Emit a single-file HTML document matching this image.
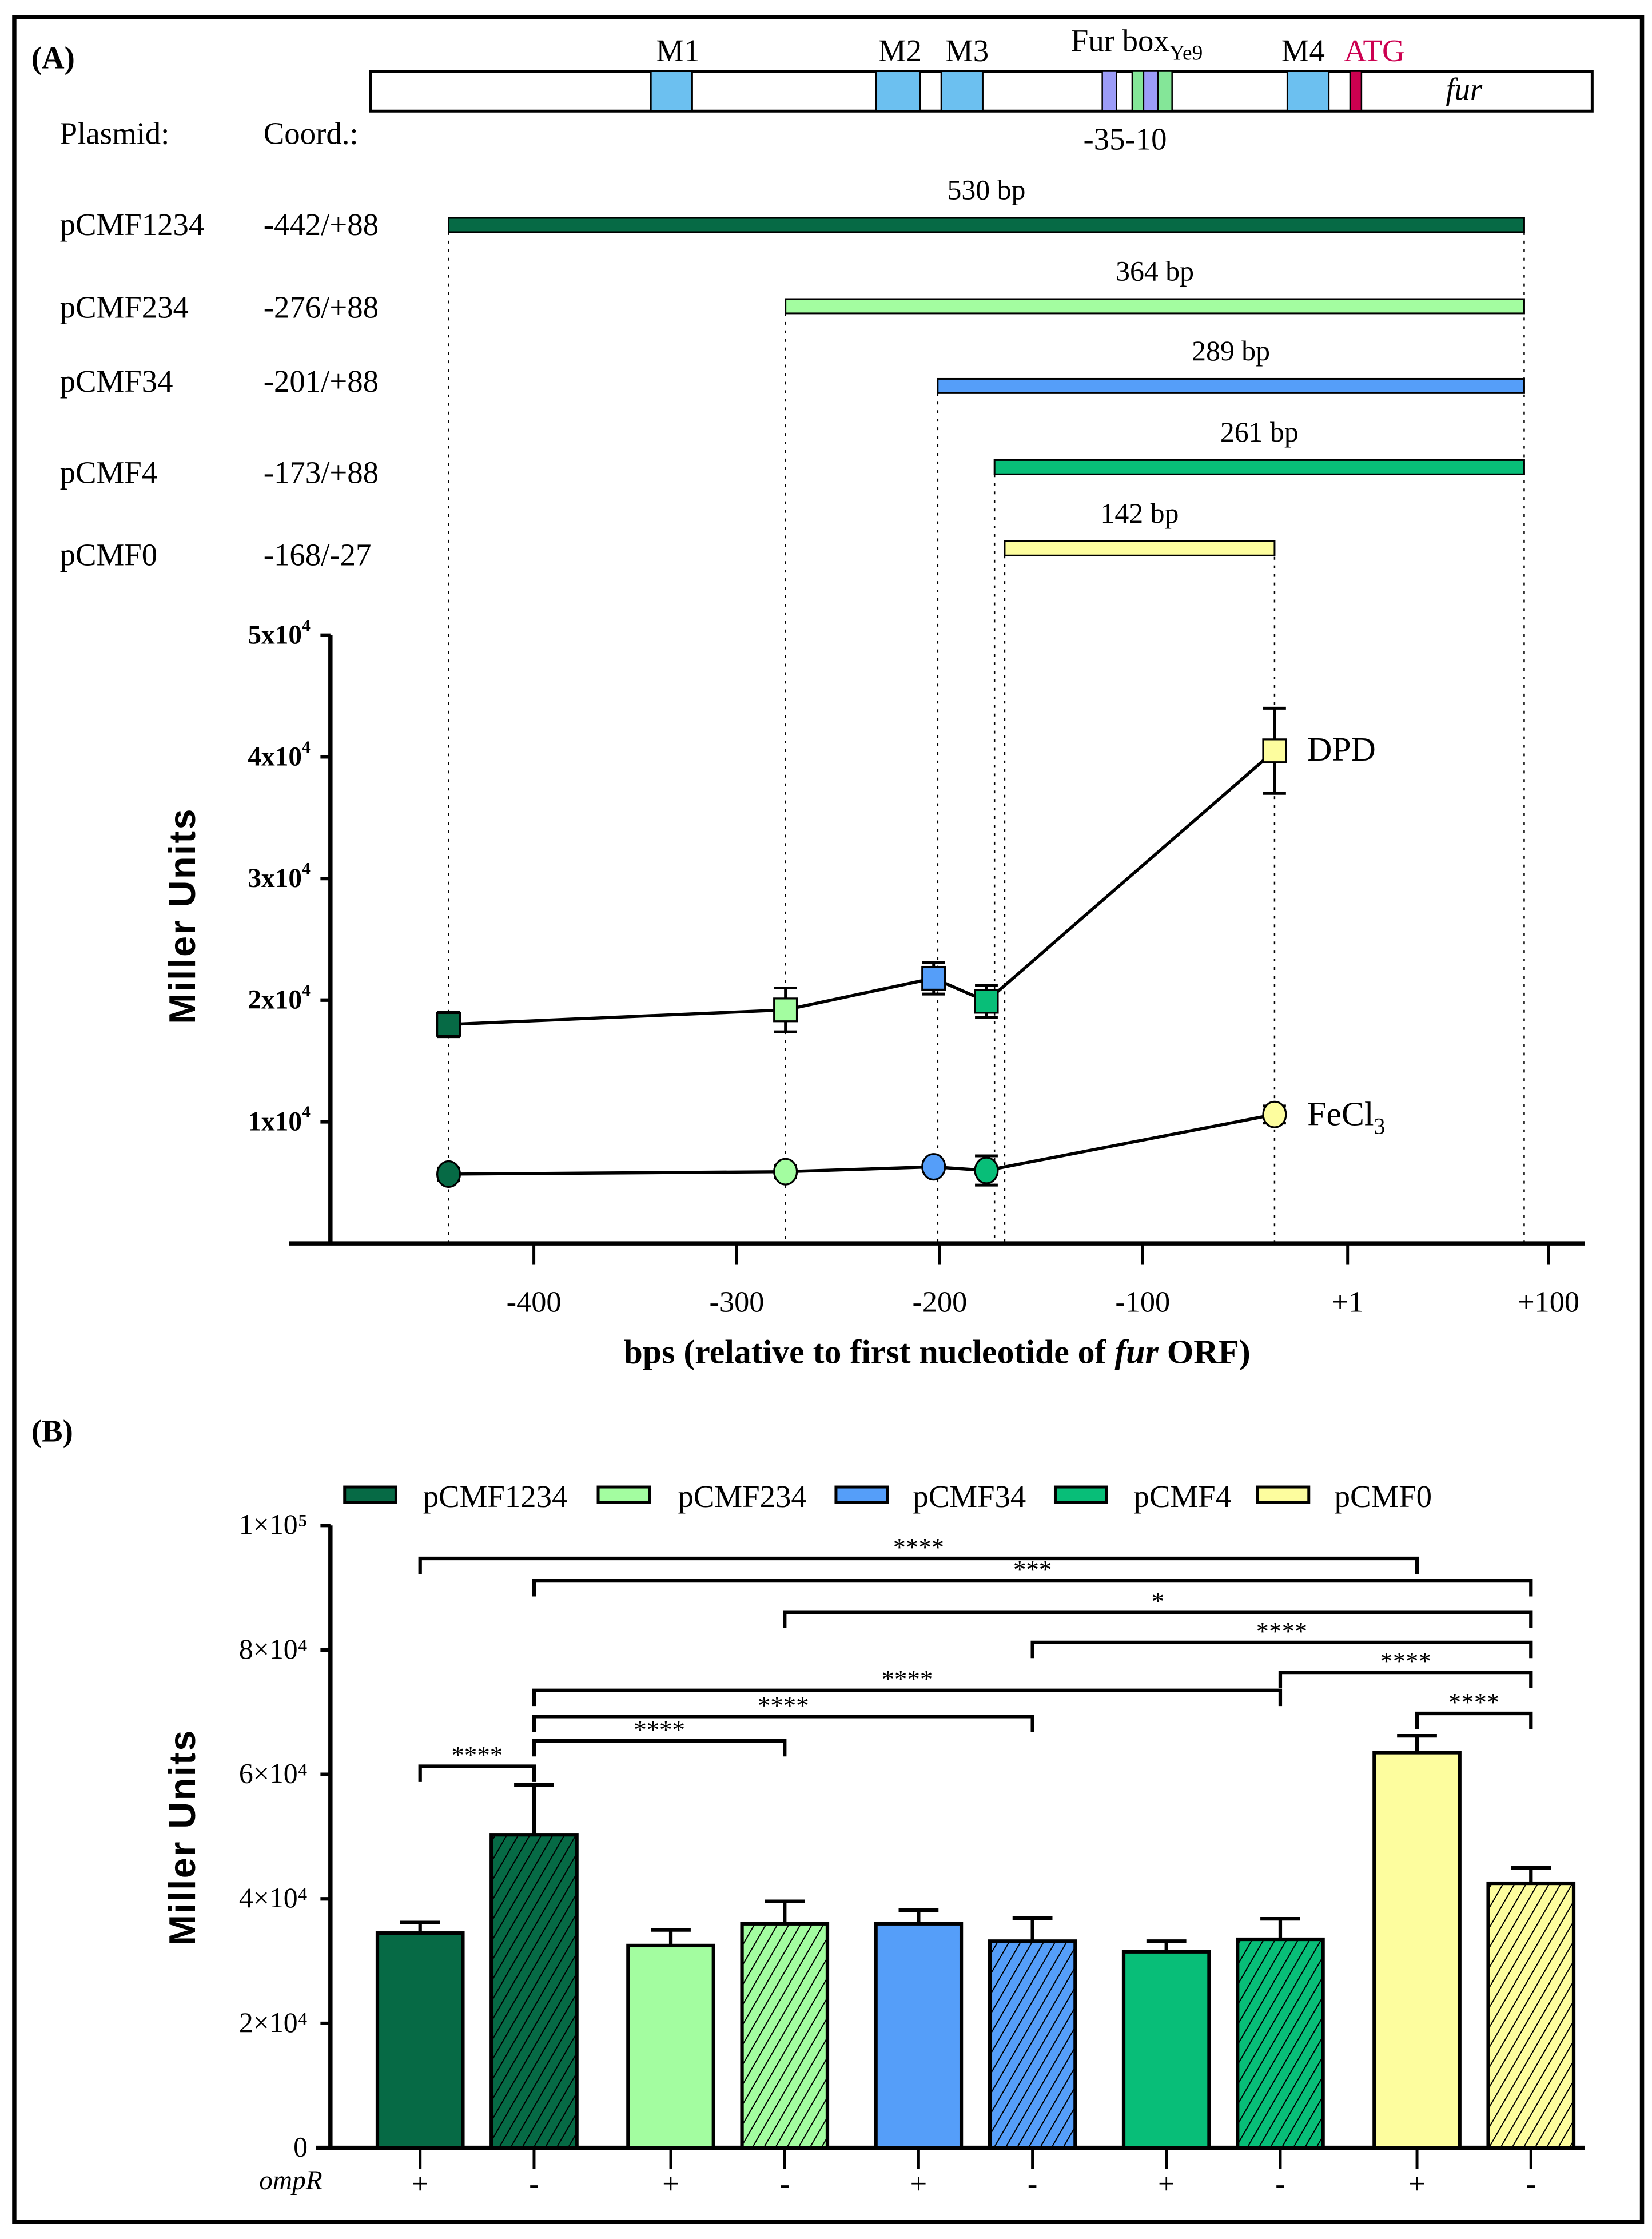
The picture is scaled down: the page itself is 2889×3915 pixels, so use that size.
<!DOCTYPE html>
<html><head><meta charset="utf-8"><style>
html,body{margin:0;padding:0;background:#fff;}
svg{display:block;font-family:"Liberation Serif",serif;}
</style></head><body>
<svg id="fig" width="2889" height="3915" viewBox="0 0 1160 1572" xmlns="http://www.w3.org/2000/svg">
<defs>
<pattern id="hatch" patternUnits="userSpaceOnUse" width="7" height="7" patternTransform="rotate(30)">
<line x1="0" y1="0" x2="0" y2="7" stroke="#000" stroke-width="1.6"/>
</pattern>
</defs>
<rect x="10" y="12" width="1143" height="1548" fill="#fff" stroke="#000" stroke-width="3"/>
<g id="panelA">
<text x="22" y="48" font-size="22" font-weight="bold">(A)</text>
<g>
<rect x="260" y="50" width="858" height="28" fill="#fff" stroke="#000" stroke-width="2"/>
<rect x="457" y="50" width="29" height="28" fill="#6cc0f0" stroke="#000" stroke-width="1.2"/>
<rect x="615" y="50" width="31" height="28" fill="#6cc0f0" stroke="#000" stroke-width="1.2"/>
<rect x="661" y="50" width="29" height="28" fill="#6cc0f0" stroke="#000" stroke-width="1.2"/>
<rect x="774" y="50" width="10" height="28" fill="#9c9cf8" stroke="#000" stroke-width="1"/>
<rect x="795" y="50" width="8" height="28" fill="#84e698" stroke="#000" stroke-width="1"/>
<rect x="803" y="50" width="10" height="28" fill="#9c9cf8" stroke="#000" stroke-width="1"/>
<rect x="813" y="50" width="10" height="28" fill="#84e698" stroke="#000" stroke-width="1"/>
<rect x="904" y="50" width="29" height="28" fill="#6cc0f0" stroke="#000" stroke-width="1.2"/>
<rect x="948" y="50" width="8" height="28" fill="#cc0050" stroke="#000" stroke-width="1"/>
<text x="1028" y="70" font-size="22" font-style="italic" text-anchor="middle">fur</text>
<text x="476" y="43" font-size="22" text-anchor="middle">M1</text>
<text x="632" y="43" font-size="22" text-anchor="middle">M2</text>
<text x="679" y="43" font-size="22" text-anchor="middle">M3</text>
<text x="752" y="36" font-size="22">Fur box<tspan font-size="15" dy="6">Ye9</tspan></text>
<text x="915" y="43" font-size="22" text-anchor="middle">M4</text>
<text x="965" y="43" font-size="22" text-anchor="middle" fill="#cc0050">ATG</text>
<text x="790" y="105" font-size="22" text-anchor="middle">-35-10</text>
</g>
<text x="42" y="101" font-size="22">Plasmid:</text>
<text x="185" y="101" font-size="22">Coord.:</text>
<g id="constructs"></g>
<g id="lineChart"></g>
</g>
<g id="panelB">
<text x="22" y="1012" font-size="22" font-weight="bold">(B)</text>
<g id="barChart"></g>
</g>
</svg>
<script>
// ---------- Panel A data ----------
const plasmids = ["pCMF1234","pCMF234","pCMF34","pCMF4","pCMF0"];
const coordLabels = ["-442/+88","-276/+88","-201/+88","-173/+88","-168/-27"];
const fragStart = [-442,-276,-201,-173,-168];
const fragEnd = [88,88,88,88,-35];
const fragLen = ["530 bp","364 bp","289 bp","261 bp","142 bp"];
const colors = ["#066a45","#a3fda0","#559ef9","#08be78","#fdfd9e"];
const pointX = [-442,-276,-203,-177,-35];
const dpdVals = [1.80,1.92,2.18,1.99,4.05];
const dpdErr = [0.10,0.18,0.13,0.13,0.35];
const fecVals = [0.57,0.59,0.63,0.60,1.06];
const fecErr = [0.05,0.05,0.04,0.12,0.07];
const yTicksA = [1,2,3,4,5];
const xTicksA = [-400,-300,-200,-100,1,100];
const xTickLabelsA = ["-400","-300","-200","-100","+1","+100"];

// ---------- Panel B data ----------
const barGroups = ["pCMF1234","pCMF1234","pCMF234","pCMF234","pCMF34","pCMF34","pCMF4","pCMF4","pCMF0","pCMF0"];
const ompR = ["+","-","+","-","+","-","+","-","+","-"];
const barVals = [3.45,5.03,3.25,3.60,3.60,3.32,3.15,3.35,6.35,4.25];
const barErr = [0.17,0.80,0.25,0.36,0.22,0.37,0.17,0.33,0.27,0.25];
const yTicksB = [0,2,4,6,8,10];
const yTickLabelsB = ["0","2×10⁴","4×10⁴","6×10⁴","8×10⁴","1×10⁵"];
const sigFrom = [0,1,3,5,7,1,1,1,0,8];
const sigTo   = [8,9,9,9,9,7,5,3,1,9];
const sigText = ["****","***","*","****","****","****","****","****","****","****"];
const sigLevel= [9.47,9.11,8.60,8.12,7.64,7.35,6.93,6.54,6.13,6.98];

const NS="http://www.w3.org/2000/svg";
function mk(tag,attrs,parent,txt){const e=document.createElementNS(NS,tag);for(const k in attrs)e.setAttribute(k,attrs[k]);if(txt!==undefined)e.textContent=txt;parent.appendChild(e);return e;}

// ---- axes A ----
const xA = v => 315 + (v+442)*1.425;
const yA = v => 873 - v*85.4;

const cons=document.getElementById('constructs');
const barY=[153,210,266,323,380];
const labelY=[165,223,275,339,397];
for(let i=0;i<plasmids.length;i++){
  const t=mk('text',{x:42,y:labelY[i],'font-size':22},cons,plasmids[i]);
  
  
  const c=mk('text',{x:185,y:labelY[i],'font-size':22},cons,coordLabels[i]);
  
  
  const x1=xA(fragStart[i]), x2=xA(fragEnd[i]);
  const r=mk('rect',{x:x1,y:barY[i],width:x2-x1,height:10,fill:colors[i],stroke:'#000','stroke-width':1.2},cons);
  
  
  const l=mk('text',{x:(x1+x2)/2,y:barY[i]-13,'font-size':20,'text-anchor':'middle'},cons,fragLen[i]);
  
  
  mk('line',{x1:x1,y1:barY[i]+10,x2:x1,y2:873,stroke:'#000','stroke-width':1,'stroke-dasharray':'2,4'},cons);
}
[xA(88),xA(-35)].forEach((x,k)=>{mk('line',{x1:x,y1:k==0?163:391,x2:x,y2:873,stroke:'#000','stroke-width':1,'stroke-dasharray':'2,4'},cons);});

const lc=document.getElementById('lineChart');
const yax=mk('line',{x1:232,y1:yA(5),x2:232,y2:874,stroke:'#000','stroke-width':3},lc);


const xax=mk('line',{x1:203,y1:873,x2:1113,y2:873,stroke:'#000','stroke-width':3},lc);


yTicksA.forEach(v=>{
  mk('line',{x1:225,y1:yA(v),x2:232,y2:yA(v),stroke:'#000','stroke-width':2.5},lc);
  const t=mk('text',{x:218,y:yA(v)+6,'font-size':19,'font-weight':'bold','text-anchor':'end'},lc);
  
  
  t.textContent=v+'x10';
  mk('tspan',{'font-size':12,dy:-9},t,'4');
});
xTicksA.forEach((v,i)=>{
  mk('line',{x1:xA(v),y1:873,x2:xA(v),y2:888,stroke:'#000','stroke-width':2},lc);
  const t=mk('text',{x:xA(v),y:921,'font-size':21,'text-anchor':'middle'},lc,xTickLabelsA[i]);
  
  
});
const yt=mk('text',{x:0,y:0,'font-size':26,'font-weight':'bold','text-anchor':'middle',transform:'translate(137,643) rotate(-90)','font-family':'"Liberation Sans",sans-serif','letter-spacing':'1'},lc,'Miller Units');


const xt=mk('text',{x:658,y:957,'font-size':24,'font-weight':'bold','text-anchor':'middle'},lc);


mk('tspan',{},xt,'bps (relative to first nucleotide of ');
mk('tspan',{'font-style':'italic'},xt,'fur');
mk('tspan',{},xt,' ORF)');

function series(vals,errs,shape,name){
  const pts=vals.map((v,i)=>xA(pointX[i])+','+yA(v)).join(' ');
  const pl=mk('polyline',{points:pts,fill:'none',stroke:'#000','stroke-width':2.2},lc);
  
  
  vals.forEach((v,i)=>{
    const x=xA(pointX[i]);
    const y1=yA(v+errs[i]),y2=yA(v-errs[i]);
    mk('line',{x1:x,y1:y1,x2:x,y2:y2,stroke:'#000','stroke-width':2},lc);
    mk('line',{x1:x-8,y1:y1,x2:x+8,y2:y1,stroke:'#000','stroke-width':2},lc);
    mk('line',{x1:x-8,y1:y2,x2:x+8,y2:y2,stroke:'#000','stroke-width':2},lc);
    let m;
    if(shape==='sq') m=mk('rect',{x:x-8,y:yA(v)-8,width:16,height:16,fill:colors[i],stroke:'#000','stroke-width':1.3},lc);
    else m=mk('ellipse',{cx:x,cy:yA(v),rx:8,ry:9,fill:colors[i],stroke:'#000','stroke-width':1.3},lc);
    
    
  });
}
series(dpdVals,dpdErr,'sq','dpd');
series(fecVals,fecErr,'ci','fecl3');
const dl=mk('text',{x:918,y:534,'font-size':24},lc,'DPD');


const fl=mk('text',{x:918,y:790,'font-size':24},lc,'FeCl');


mk('tspan',{'font-size':16,dy:6},fl,'3');

// ---- Panel B ----
const bc=document.getElementById('barChart');
const yB = v => 1508 - v*43.7;
const barCx=[295,375,471,551,645,725,819,899,995,1075];
const bw=60;
const legX=[242,420,587,741,883];
const legTX=[297,476,641,796,937];
plasmids.forEach((p,i)=>{
  const r=mk('rect',{x:legX[i],y:1044,width:36,height:11,fill:colors[i],stroke:'#000','stroke-width':2},bc);
  
  
  const t=mk('text',{x:legTX[i],y:1058,'font-size':22},bc,p);
  
  
});
const ya=mk('line',{x1:232,y1:yB(10),x2:232,y2:1509,stroke:'#000','stroke-width':3},bc);


const xa=mk('line',{x1:222,y1:1508,x2:1113,y2:1508,stroke:'#000','stroke-width':3},bc);


yTicksB.forEach((v,i)=>{
  mk('line',{x1:225,y1:yB(v),x2:232,y2:yB(v),stroke:'#000','stroke-width':2.5},bc);
  const t=mk('text',{x:216,y:yB(v)+6,'font-size':20,'text-anchor':'end'},bc,yTickLabelsB[i]);
  
  
});
const ytb=mk('text',{x:0,y:0,'font-size':26,'font-weight':'bold','text-anchor':'middle',transform:'translate(137,1290) rotate(-90)','font-family':'"Liberation Sans",sans-serif','letter-spacing':'1'},bc,'Miller Units');


const om=mk('text',{x:182,y:1537,'font-size':19,'font-style':'italic'},bc,'ompR');


barVals.forEach((v,i)=>{
  const x=barCx[i], ci=plasmids.indexOf(barGroups[i]);
  const top=yB(v);
  const e=yB(v+barErr[i]);
  mk('line',{x1:x,y1:e,x2:x,y2:top,stroke:'#000','stroke-width':2.5},bc);
  mk('line',{x1:x-14,y1:e,x2:x+14,y2:e,stroke:'#000','stroke-width':2.5},bc);
  const r=mk('rect',{x:x-bw/2,y:top,width:bw,height:1508-top,fill:colors[ci],stroke:'#000','stroke-width':2.5},bc);
  
  
  if(ompR[i]==='-'){
    const h=mk('rect',{x:x-bw/2+1,y:top+1,width:bw-2,height:1508-top-2,fill:'url(#hatch)'},bc);
    
    
  }
  mk('line',{x1:x,y1:1508,x2:x,y2:1523,stroke:'#000','stroke-width':2},bc);
  const t=mk('text',{x:x,y:1540,'font-size':21,'text-anchor':'middle'},bc,ompR[i]==='+'?'+':'-');
  
  
});
sigText.forEach((s,i)=>{
  const x1=barCx[sigFrom[i]],x2=barCx[sigTo[i]],y=yB(sigLevel[i]);
  const p=mk('path',{d:`M${x1},${y+11}V${y}H${x2}V${y+11}`,fill:'none',stroke:'#000','stroke-width':2.5},bc);
  
  
  const t=mk('text',{x:(x1+x2)/2,y:y-2,'font-size':18,'text-anchor':'middle'},bc,s);
  
  
});
</script>
</body></html>
